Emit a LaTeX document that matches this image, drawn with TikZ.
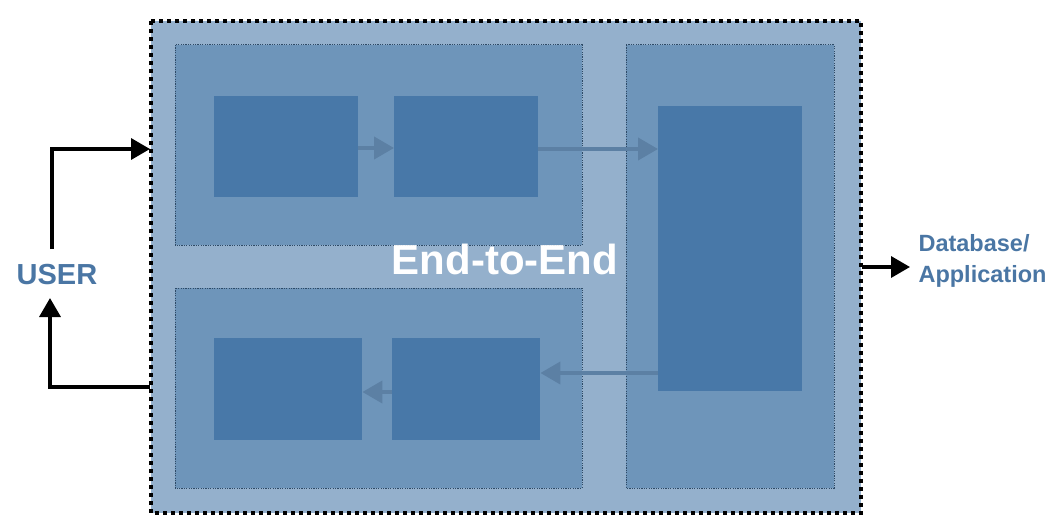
\documentclass[tikz,border=0pt]{standalone}
\usepackage{fontspec}
\setmainfont{Liberation Sans}
\usetikzlibrary{arrows.meta}
\definecolor{outerc}{HTML}{94B0CC}
\definecolor{panelc}{HTML}{6E95BA}
\definecolor{boxc}{HTML}{4878A8}
\definecolor{arrc}{HTML}{5C80A4}
\definecolor{txtc}{HTML}{4A76A4}
\definecolor{edgec}{HTML}{2E4A66}
\tikzset{
  outerbox/.style={fill=outerc, draw=black, line width=4pt, dash pattern=on 4pt off 4pt},
  panel/.style={fill=panelc, draw=edgec, line width=1pt, dash pattern=on 1.2pt off 1.2pt},
  inbox/.style={fill=boxc},
  flow/.style={draw=arrc, line width=4pt, -{Triangle[length=20pt,width=22pt]}},
  userarrow/.style={draw=black, line width=3.5pt, -{Triangle[length=19pt,width=21pt]}},
  lbl/.style={text=txtc, font=\bfseries, align=left}
}
\begin{document}
\begin{tikzpicture}[x=1pt,y=-1pt]
\useasboundingbox (0,0) rectangle (1062,532);
\draw[outerbox] (151,21) rectangle (861,513);
\draw[panel] (175,45) rectangle (582,245);
\draw[panel] (175,288) rectangle (582,488);
\draw[panel] (626,45) rectangle (834,488);
\node[inbox, minimum width=144pt, minimum height=101pt, inner sep=0, anchor=north west] (a1) at (214,96) {};
\node[inbox, minimum width=144pt, minimum height=101pt, inner sep=0, anchor=north west] (a2) at (394,96) {};
\node[inbox, minimum width=148pt, minimum height=102pt, inner sep=0, anchor=north west] (b1) at (214,338) {};
\node[inbox, minimum width=148pt, minimum height=102pt, inner sep=0, anchor=north west] (b2) at (392,338) {};
\node[inbox, minimum width=144pt, minimum height=285pt, inner sep=0, anchor=north west] (c) at (658,106) {};
\draw[flow] (a1.east |- 0,148) -- (a2.west |- 0,148);
\draw[flow] (a2.east |- 0,149) -- (c.west |- 0,149);
\draw[flow] (c.west |- 0,373) -- (b2.east |- 0,373);
\draw[flow] (b2.west |- 0,392) -- (b1.east |- 0,392);
\node[text=white, font=\bfseries\fontsize{42}{44}\selectfont] (e2e) at (505,259) {End-to-End};
\node[lbl, font=\bfseries\fontsize{29}{31}\selectfont] (user) at (57,275) {USER};
\coordinate (in) at (150,149);
\coordinate (out) at (150,387);
\draw[userarrow] (52,249) |- (in);
\draw[userarrow] (out) -| (50,298);
\node[lbl, font=\bfseries\fontsize{23.5}{31}\selectfont, anchor=west] (db) at (915,261) {Database/\\Application};
\coordinate (rs) at (862,267);
\draw[userarrow] (rs) -- (910,267);
\end{tikzpicture}
\end{document}
